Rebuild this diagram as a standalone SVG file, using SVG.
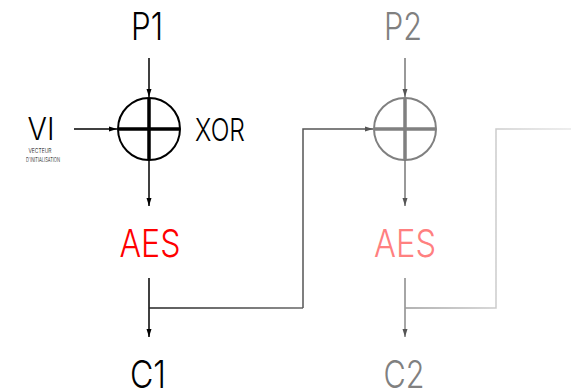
<svg xmlns="http://www.w3.org/2000/svg" width="571" height="388" viewBox="0 0 571 388">
<defs>
<style>
.t{font-family:"Inter","DejaVu Sans",sans-serif;font-weight:300;text-anchor:middle}
.big{font-size:38px}
.small{font-size:6px}
.ln{fill:none;stroke-width:1.5}
</style>
<marker id="ab" viewBox="0 0 8 8" refX="8" refY="4" markerWidth="8" markerHeight="8" markerUnits="userSpaceOnUse" orient="auto"><path d="M0,1.5 L8,4 L0,6.5 Z" fill="#000"/></marker>
<marker id="ag" viewBox="0 0 8 8" refX="8" refY="4" markerWidth="8" markerHeight="8" markerUnits="userSpaceOnUse" orient="auto"><path d="M0,1.5 L8,4 L0,6.5 Z" fill="#555"/></marker>
<linearGradient id="g1" gradientUnits="userSpaceOnUse" x1="149" y1="0" x2="303" y2="0"><stop offset="0" stop-color="#222"/><stop offset="1" stop-color="#666"/></linearGradient>
<linearGradient id="g2" gradientUnits="userSpaceOnUse" x1="405" y1="0" x2="571" y2="0"><stop offset="0" stop-color="#999"/><stop offset="0.55" stop-color="#ccc"/><stop offset="1" stop-color="#e8e8e8"/></linearGradient>
</defs>
<g id="P1"><text class="t big" x="147" y="40" textLength="32" lengthAdjust="spacingAndGlyphs" fill="#000">P1</text></g>
<g id="VI">
<text class="t" x="41" y="140" font-size="31" textLength="27" lengthAdjust="spacingAndGlyphs" fill="#000">VI</text>
<text class="t small" x="40" y="153" textLength="23" lengthAdjust="spacingAndGlyphs" fill="#000">VECTEUR</text>
<text class="t small" x="43" y="162" textLength="34" lengthAdjust="spacingAndGlyphs" fill="#000">D'INITIALISATION</text>
</g>
<g id="XOR1">
<circle cx="149" cy="129" r="31" fill="none" stroke="#000" stroke-width="2"/>
<path d="M149,98 V160 M118,129 H180" stroke="#000" stroke-width="3.5"/>
<text class="t" x="220" y="141" font-size="31" textLength="50" lengthAdjust="spacingAndGlyphs" fill="#000">XOR</text>
</g>
<g id="AES1"><text class="t big" x="150" y="257" textLength="61" lengthAdjust="spacingAndGlyphs" fill="#ff0000">AES</text></g>
<g id="C1"><text class="t big" x="148" y="388" textLength="36" lengthAdjust="spacingAndGlyphs" fill="#000">C1</text></g>
<g id="P2"><text class="t big" x="403" y="40" textLength="38" lengthAdjust="spacingAndGlyphs" fill="#808080">P2</text></g>
<g id="XOR2">
<circle cx="405" cy="129" r="31" fill="none" stroke="#808080" stroke-width="2"/>
<path d="M405,98 V160 M374,129 H436" stroke="#808080" stroke-width="3.5"/>
</g>
<g id="AES2"><text class="t big" x="405" y="257" textLength="62" lengthAdjust="spacingAndGlyphs" fill="#ff8080">AES</text></g>
<g id="C2"><text class="t big" x="404" y="388" textLength="41" lengthAdjust="spacingAndGlyphs" fill="#808080">C2</text></g>
<g id="connectors">
<path class="ln" d="M149,58 V97" stroke="#000" marker-end="url(#ab)"/>
<path class="ln" d="M74,129 H117" stroke="#000" marker-end="url(#ab)"/>
<path class="ln" d="M149,160 V206" stroke="#000" marker-end="url(#ab)"/>
<path class="ln" d="M149,278 V337" stroke="#000" marker-end="url(#ab)"/>
<path class="ln" d="M149,308 H303" stroke="url(#g1)"/>
<path class="ln" d="M303,308 V129 H373" stroke="#555" marker-end="url(#ag)"/>
<path class="ln" d="M405,58 V97" stroke="#777" marker-end="url(#ag)"/>
<path class="ln" d="M405,160 V206" stroke="#777" marker-end="url(#ag)"/>
<path class="ln" d="M405,278 V337" stroke="#888" marker-end="url(#ag)"/>
<path class="ln" d="M405,308 H496 V129 H571" stroke="url(#g2)"/>
</g>
</svg>
